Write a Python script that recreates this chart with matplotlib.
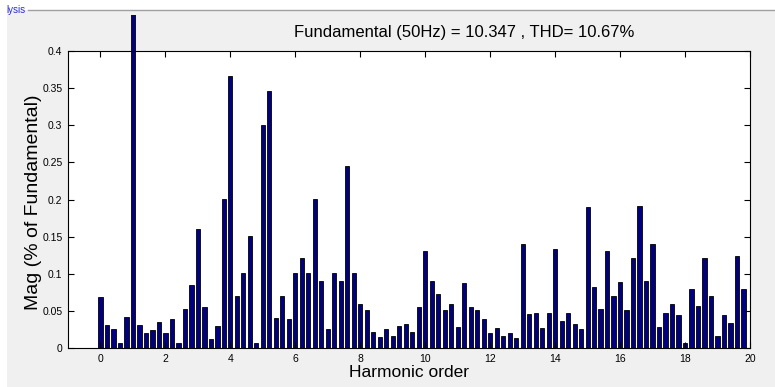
import numpy as np
import matplotlib
matplotlib.use("Agg")
import matplotlib.pyplot as plt
from matplotlib.patches import Rectangle
from matplotlib.lines import Line2D
from matplotlib.transforms import Bbox, TransformedBbox

plt.rcParams['font.family'] = ['Liberation Sans', 'DejaVu Sans']

# harmonic order axis (0 .. 19.8, 0.2 steps) and magnitude in % of fundamental
harmonic_order = np.round(np.arange(0, 20, 0.2), 1)
mag = [
    0.069, 0.032, 0.026, 0.007, 0.042,
    100.0, 0.031, 0.021, 0.025, 0.036,
    0.021, 0.040, 0.007, 0.053, 0.085,
    0.161, 0.055, 0.013, 0.030, 0.201,
    0.367, 0.071, 0.101, 0.151, 0.007,
    0.300, 0.346, 0.041, 0.071, 0.039,
    0.101, 0.121, 0.101, 0.201, 0.091,
    0.026, 0.101, 0.091, 0.245, 0.101,
    0.060, 0.051, 0.022, 0.015, 0.026,
    0.016, 0.030, 0.033, 0.022, 0.056,
    0.131, 0.091, 0.073, 0.051, 0.059,
    0.029, 0.088, 0.056, 0.051, 0.040,
    0.021, 0.027, 0.016, 0.020, 0.014,
    0.140, 0.046, 0.047, 0.027, 0.047,
    0.134, 0.037, 0.047, 0.033, 0.026,
    0.190, 0.083, 0.053, 0.131, 0.071,
    0.089, 0.051, 0.121, 0.191, 0.091,
    0.140, 0.029, 0.048, 0.059, 0.045,
    0.007, 0.080, 0.057, 0.121, 0.071,
    0.016, 0.045, 0.034, 0.124, 0.080,
]
x_ticks = list(range(0, 21, 2))
y_ticks = [0, 0.05, 0.1, 0.15, 0.2, 0.25, 0.3, 0.35, 0.4]
y_ticklabels = ['0', '0.05', '0.1', '0.15', '0.2', '0.25', '0.3', '0.35', '0.4']
title = 'Fundamental (50Hz) = 10.347 , THD= 10.67%'

W, H = 775, 387
fig = plt.figure(figsize=(W / 100, H / 100), dpi=100)
fig.patch.set_facecolor('white')

# gray panel background with its top border
fig.patches.append(Rectangle((7 / W, 0), 1 - 7 / W, 1 - 10 / H, transform=fig.transFigure,
                             facecolor='#f0f0f0', edgecolor='none', zorder=-5))
fig.lines.append(Line2D([28 / W, 1], [1 - 10 / H, 1 - 10 / H], transform=fig.transFigure,
                        color='#a0a0a0', lw=1, zorder=-4))
fig.text(6 / W, 1 - 10 / H, 'lysis', color='#2b2bd6', fontsize=7, va='center', ha='left')

ax = fig.add_axes([68 / W, 1 - 348.3 / H, (750 - 68) / W, (348.3 - 51) / H])
ax.set_facecolor('white')

bars = ax.bar(harmonic_order, mag, width=0.13, color='#000080', edgecolor='black', linewidth=0.6)
# bars may run above the axes up to the panel border (like the fundamental)
clip = TransformedBbox(Bbox([[0, 0], [1, 1 - 15 / H]]), fig.transFigure)
for b in bars:
    b.set_clip_box(clip)

ax.set_xlim(-1, 20)
ax.set_ylim(0, 0.4)
ax.set_xticks(x_ticks)
ax.set_yticks(y_ticks)
ax.set_yticklabels(y_ticklabels)
ax.tick_params(direction='in', length=4, width=0.8, labelsize=7.5, top=True, right=True, pad=4)
for s in ax.spines.values():
    s.set_linewidth(0.8)

ax.set_xlabel('Harmonic order', fontsize=12.5, labelpad=1)
ax.set_ylabel('Mag (% of Fundamental)', fontsize=14)
ax.yaxis.set_label_coords(-0.038, 0.49)
fig.text(464 / W, 1 - 33 / H, title, fontsize=12, ha='center', va='center')

fig.savefig('out.png', dpi=100)
